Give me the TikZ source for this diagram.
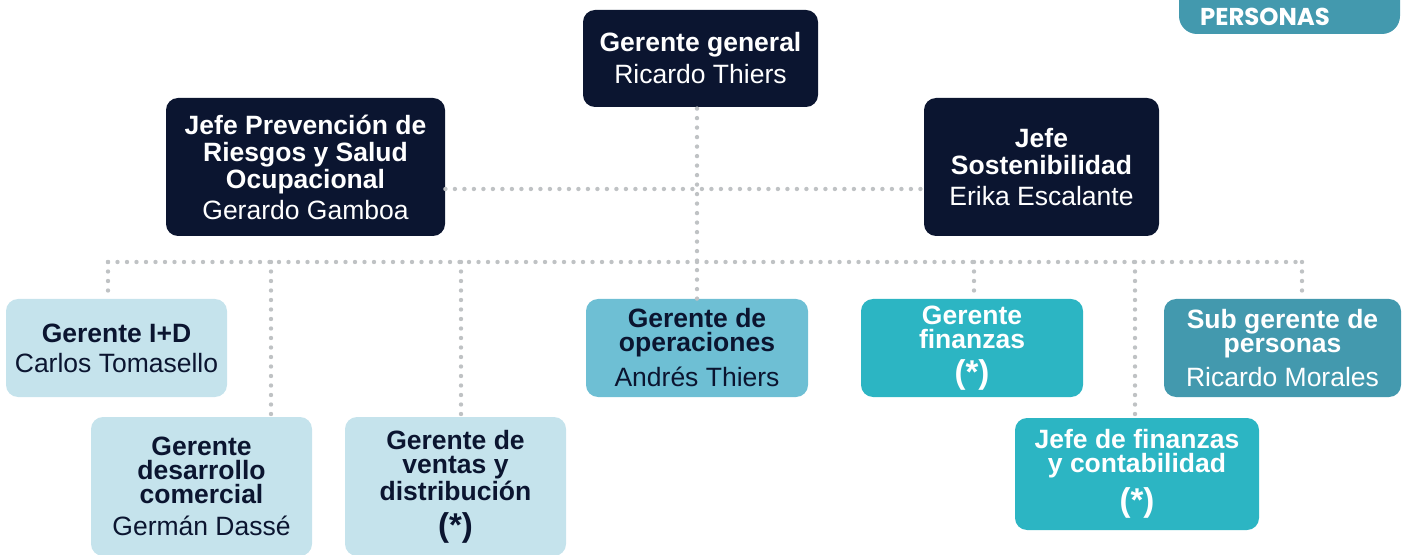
\documentclass[tikz,border=0pt]{standalone}
\usepackage{fontspec}
\setmainfont{Liberation Sans}
\newfontfamily\tabfont{Poppins}
\usetikzlibrary{positioning}

\definecolor{navy}{HTML}{0B1530}
\definecolor{celeste}{HTML}{C5E3EC}
\definecolor{medio}{HTML}{6EBFD4}
\definecolor{turquesa}{HTML}{2CB5C3}
\definecolor{petroleo}{HTML}{4399AE}
\definecolor{punto}{HTML}{BFC2C4}

\newcommand\pend{{\fontsize{16.5}{16.5}\selectfont\bfseries (*)}}

\begin{document}
\begin{tikzpicture}[x=0.5pt, y=-0.5pt,
        orgbox/.style = {rounded corners=6pt, align=center, inner sep=2pt},
        alto/.style   = {orgbox, fill=navy, text=white, font=\fontsize{13.25}{13.5}\selectfont},
        clara/.style  = {orgbox, fill=celeste, text=navy, font=\fontsize{13.25}{12}\selectfont},
        media/.style  = {orgbox, fill=medio, text=navy, font=\fontsize{13.25}{12}\selectfont},
        turq/.style   = {orgbox, fill=turquesa, text=white, font=\fontsize{13.25}{12}\selectfont},
        pers/.style   = {orgbox, fill=petroleo, text=white, font=\fontsize{13.25}{12}\selectfont},
        link/.style   = {draw=punto, line width=2.2pt, line cap=round, dash pattern=on 0pt off 4.75pt},
    ]
    \useasboundingbox (0,0) rectangle (1407,555);
    %
    \fill[petroleo, rounded corners=9pt] (1179,-20) rectangle (1400,34);
    \node[text=white, font=\tabfont\bfseries\fontsize{12.2}{12}\selectfont] (tab) at (1265,17) {PERSONAS};
    %
    \node[alto, minimum width=117.5pt, minimum height=48.5pt]  (gg)     at (700.5,58.5) {\textbf{Gerente general}\\[2.5pt]Ricardo Thiers};
    \node[alto, minimum width=139.5pt, minimum height=69pt]    (prev)   at (305.5,167)  {\textbf{Jefe Prevención de}\\\textbf{Riesgos y Salud}\\\textbf{Ocupacional}\\[2pt]Gerardo Gamboa};
    \node[alto, minimum width=117.5pt, minimum height=69pt]    (sost)   at (1041.5,167) {\textbf{Jefe}\\\textbf{Sostenibilidad}\\[2pt]Erika Escalante};
    \node[clara, minimum width=110.5pt, minimum height=49pt]   (id)     at (116.5,348)  {\textbf{Gerente I+D}\\[3pt]Carlos Tomasello};
    \node[clara, minimum width=110.5pt, minimum height=69.5pt] (desa)   at (201.5,486.5) {\textbf{Gerente}\\\textbf{desarrollo}\\\textbf{comercial}\\[4pt]Germán Dassé};
    \node[clara, minimum width=110.5pt, minimum height=69.5pt] (ventas) at (455.5,486.5) {\textbf{Gerente de}\\\textbf{ventas y}\\\textbf{distribución}\\[5pt]\pend};
    \node[media, minimum width=111pt, minimum height=49pt]     (oper)   at (697,348)    {\textbf{Gerente de}\\\textbf{operaciones}\\[4pt]Andrés Thiers};
    \node[turq, minimum width=111pt, minimum height=49pt]      (fin)    at (972,348)    {\textbf{Gerente}\\\textbf{finanzas}\\[4.5pt]\pend};
    \node[pers, minimum width=118.5pt, minimum height=49pt]    (sub)    at (1282.5,348) {\textbf{Sub gerente de}\\\textbf{personas}\\[4pt]Ricardo Morales};
    \node[turq, minimum width=122pt, minimum height=56pt]      (jefin)  at (1137,474)   {\textbf{Jefe de finanzas}\\\textbf{y contabilidad}\\[4pt]\pend};
    %
    \coordinate (bid)     at (108,262);
    \coordinate (bdesa)   at (271,262);
    \coordinate (bventas) at (461,262);
    \coordinate (bfin)    at (974,262);
    \coordinate (bjefin)  at (1135,262);
    \coordinate (bsub)    at (1302,262);
    %
    \draw[link] (oper.north) -- (oper.north |- gg.south);
    \draw[link] ([yshift=-11pt]prev.east) -- ([yshift=-11pt]sost.west);
    \draw[link] (bid) -- (bsub);
    \draw[link] (bid) -- (bid |- id.north);
    \draw[link] (bdesa) -- (bdesa |- desa.north);
    \draw[link] (bventas) -- (bventas |- ventas.north);
    \draw[link] (bfin) -- (bfin |- fin.north);
    \draw[link] (bjefin) -- (bjefin |- jefin.north);
    \draw[link] (bsub) -- (bsub |- sub.north);
    %
\end{tikzpicture}
\end{document}
